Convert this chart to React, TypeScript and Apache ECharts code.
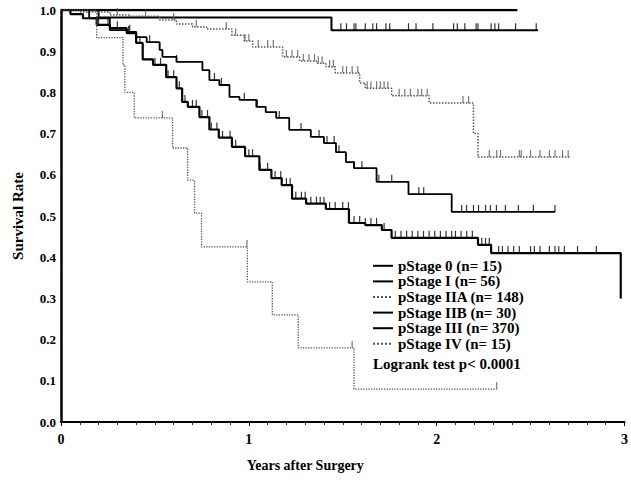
import React, { useEffect, useRef } from "react";
import * as echarts from "echarts";

// ---- Data (years after surgery, survival rate) ----
const seriesNames = [
  "pStage 0 (n= 15)",
  "pStage I (n= 56)",
  "pStage IIA (n= 148)",
  "pStage IIB (n= 30)",
  "pStage III (n= 370)",
  "pStage IV (n= 15)",
];

const stage0Times = [0, 2.43];
const stage0Surv = [1.0, 1.0];

const stageITimes = [0, 0.2, 1.44, 2.54];
const stageISurv = [1.0, 0.982, 0.951, 0.951];

const stageIIATimes = [0, 0.1, 0.26, 0.37, 0.525, 0.615, 0.7, 0.775, 0.91, 0.976, 1.02, 1.18, 1.27, 1.36, 1.41, 1.46, 1.59, 1.62, 1.76, 1.96, 2.196, 2.22, 2.71];
const stageIIASurv = [1.0, 0.995, 0.988, 0.985, 0.976, 0.966, 0.959, 0.954, 0.939, 0.925, 0.91, 0.886, 0.876, 0.871, 0.862, 0.847, 0.823, 0.81, 0.792, 0.774, 0.7, 0.643, 0.643];

const stageIIBTimes = [0, 0.15, 0.26, 0.35, 0.4, 0.456, 0.525, 0.54, 0.615, 0.753, 0.79, 0.843, 0.897, 0.95, 1.04, 1.09, 1.146, 1.215, 1.33, 1.4, 1.464, 1.517, 1.56, 1.68, 1.85, 2.08, 2.63];
const stageIIBSurv = [1.0, 0.98, 0.951, 0.947, 0.934, 0.922, 0.903, 0.886, 0.874, 0.854, 0.83, 0.818, 0.789, 0.782, 0.765, 0.752, 0.738, 0.709, 0.692, 0.677, 0.655, 0.631, 0.616, 0.583, 0.553, 0.51, 0.51];

const stageIIITimes = [0, 0.05, 0.117, 0.19, 0.26, 0.35, 0.4, 0.435, 0.49, 0.56, 0.615, 0.645, 0.675, 0.737, 0.79, 0.84, 0.91, 0.98, 1.056, 1.12, 1.175, 1.23, 1.305, 1.41, 1.533, 1.62, 1.708, 1.76, 2.22, 2.29, 2.98];
const stageIIISurv = [1.0, 0.99, 0.98, 0.964, 0.956, 0.944, 0.92, 0.88, 0.867, 0.837, 0.81, 0.777, 0.765, 0.74, 0.71, 0.69, 0.668, 0.645, 0.612, 0.592, 0.575, 0.542, 0.53, 0.517, 0.483, 0.478, 0.466, 0.447, 0.43, 0.41, 0.3];

const stageIVTimes = [0, 0.19, 0.33, 0.34, 0.39, 0.594, 0.674, 0.711, 0.748, 0.992, 1.125, 1.263, 1.56, 2.32];
const stageIVSurv = [1.0, 0.933, 0.867, 0.8, 0.738, 0.665, 0.587, 0.507, 0.425, 0.34, 0.26, 0.18, 0.08, 0.08];

// censored observations (years)
const stageICensor = [1.49, 1.52, 1.56, 1.57, 1.62, 1.66, 1.68, 1.73, 1.75, 1.85, 1.89, 1.98, 2.09, 2.11, 2.15, 2.21, 2.22, 2.29, 2.31, 2.33, 2.42, 2.53];
const stageIIACensor = [0.3, 0.45, 0.6, 0.72, 0.88, 0.93, 0.98, 1.0, 1.05, 1.1, 1.13, 1.2, 1.23, 1.26, 1.29, 1.32, 1.35, 1.37, 1.39, 1.43, 1.45, 1.5, 1.52, 1.55, 1.58, 1.63, 1.65, 1.68, 1.7, 1.72, 1.74, 1.8, 1.83, 1.86, 1.9, 1.92, 1.95, 2.14, 2.17, 2.28, 2.32, 2.34, 2.44, 2.45, 2.5, 2.55, 2.6, 2.63, 2.67, 2.7];
const stageIIBCensor = [0.366, 0.472, 0.525, 0.615, 0.817, 0.854, 0.976, 1.045, 1.146, 1.162, 1.278, 1.374, 1.416, 1.454, 1.48, 1.56, 1.602, 1.692, 1.761, 1.905, 1.931, 2.133, 2.159, 2.196, 2.223, 2.26, 2.286, 2.318, 2.366, 2.435, 2.515, 2.63];
const stageIIICensor = [0.2, 0.25, 0.3, 0.36, 0.42, 0.5, 0.53, 0.57, 0.6, 0.63, 0.66, 0.7, 0.72, 0.75, 0.78, 0.8, 0.83, 0.86, 0.9, 0.93, 1.0, 1.02, 1.06, 1.1, 1.14, 1.17, 1.2, 1.22, 1.25, 1.28, 1.3, 1.33, 1.36, 1.38, 1.4, 1.43, 1.46, 1.5, 1.53, 1.56, 1.59, 1.62, 1.65, 1.68, 1.72, 1.78, 1.81, 1.84, 1.87, 1.9, 1.93, 1.96, 1.99, 2.02, 2.05, 2.08, 2.1, 2.13, 2.16, 2.19, 2.24, 2.26, 2.28, 2.33, 2.35, 2.38, 2.41, 2.44, 2.5, 2.52, 2.55, 2.6, 2.63, 2.65, 2.68, 2.75, 2.85];
const stageIVCensor = [0.54, 0.99, 1.55, 2.32];

const xTicks = [0, 1, 2, 3];
const yTickStep = 0.1;
const logrankText = "Logrank test p< 0.0001";

const FONT = "'Liberation Serif', 'DejaVu Serif', serif";

function survAt(times: number[], surv: number[], t: number): number {
  let s = surv[0];
  for (let i = 0; i < times.length; i++) {
    if (times[i] <= t) s = surv[i];
  }
  return s;
}

export default function App() {
  const ref = useRef<HTMLDivElement>(null);

  useEffect(() => {
    if (!ref.current) return;
    const chart = echarts.init(ref.current, undefined, { renderer: "svg" });

    const curves = [
      { t: stage0Times, s: stage0Surv, c: [] as number[], color: "#000", width: 2.6, type: "solid" },
      { t: stageITimes, s: stageISurv, c: stageICensor, color: "#000", width: 2, type: "solid" },
      { t: stageIIATimes, s: stageIIASurv, c: stageIIACensor, color: "#555", width: 1.5, type: "dotted" },
      { t: stageIIBTimes, s: stageIIBSurv, c: stageIIBCensor, color: "#000", width: 1.8, type: "solid" },
      { t: stageIIITimes, s: stageIIISurv, c: stageIIICensor, color: "#000", width: 2.2, type: "solid" },
      { t: stageIVTimes, s: stageIVSurv, c: stageIVCensor, color: "#555", width: 1.3, type: "dotted" },
    ];

    const series: any[] = [];
    curves.forEach((cv, i) => {
      series.push({
        name: seriesNames[i],
        type: "line",
        step: "end",
        symbol: "none",
        data: cv.t.map((t, k) => [t, cv.s[k]]),
        lineStyle: { color: cv.color, width: cv.width, type: cv.type },
        itemStyle: { color: cv.color },
        z: 3,
      });
      if (cv.c.length) {
        series.push({
          name: "censor " + i,
          type: "scatter",
          symbol: "rect",
          symbolSize: [1.2, 7],
          symbolOffset: [0, -3.5],
          itemStyle: { color: cv.color },
          data: cv.c.map((t) => [t, survAt(cv.t, cv.s, t)]),
          z: 4,
        });
      }
    });

    chart.setOption({
      animation: false,
      backgroundColor: "#fff",
      grid: { left: 61, right: 5, top: 10, bottom: 58 },
      xAxis: {
        type: "value",
        min: xTicks[0],
        max: xTicks[xTicks.length - 1],
        interval: 1,
        name: "Years after Surgery",
        nameLocation: "middle",
        nameGap: 36,
        nameTextStyle: { fontFamily: FONT, fontWeight: "bold", fontSize: 14, color: "#000", padding: [0, 75, 0, 0] },
        axisLine: { lineStyle: { color: "#000", width: 2 } },
        axisTick: { show: true, length: 4, lineStyle: { color: "#000", width: 1 } },
        minorTick: { show: true, splitNumber: 10, length: 3, lineStyle: { color: "#333", width: 1 } },
        splitLine: { show: false },
        axisLabel: { fontFamily: FONT, fontWeight: "bold", fontSize: 14, color: "#000", margin: 10 },
      },
      yAxis: {
        type: "value",
        min: 0,
        max: 1,
        interval: yTickStep,
        name: "Survival Rate",
        nameLocation: "middle",
        nameGap: 36,
        nameTextStyle: { fontFamily: FONT, fontWeight: "bold", fontSize: 15, color: "#000" },
        axisLine: { show: true, lineStyle: { color: "#000", width: 2.5 } },
        axisTick: { show: false },
        splitLine: { show: false },
        axisLabel: {
          fontFamily: FONT,
          fontWeight: "bold",
          fontSize: 13,
          color: "#000",
          margin: 5,
          formatter: (v: number) => v.toFixed(1),
        },
      },
      legend: {
        data: seriesNames,
        orient: "vertical",
        left: 367,
        top: 253,
        itemWidth: 20,
        itemHeight: 10,
        itemGap: 0,
        itemStyle: { opacity: 0 },
        textStyle: { fontFamily: FONT, fontWeight: "bold", fontSize: 15, lineHeight: 15.6, color: "#000" },
        selectedMode: false,
      },
      graphic: [
        {
          type: "text",
          left: 373,
          top: 356,
          style: { text: logrankText, fontFamily: FONT, fontWeight: "bold", fontSize: 15, fill: "#000" },
        },
      ],
      series,
    });

    return () => chart.dispose();
  }, []);

  return (
    <div
      ref={ref}
      style={{ position: "fixed", left: 0, top: 0, width: 631, height: 480, background: "#fff" }}
    />
  );
}
